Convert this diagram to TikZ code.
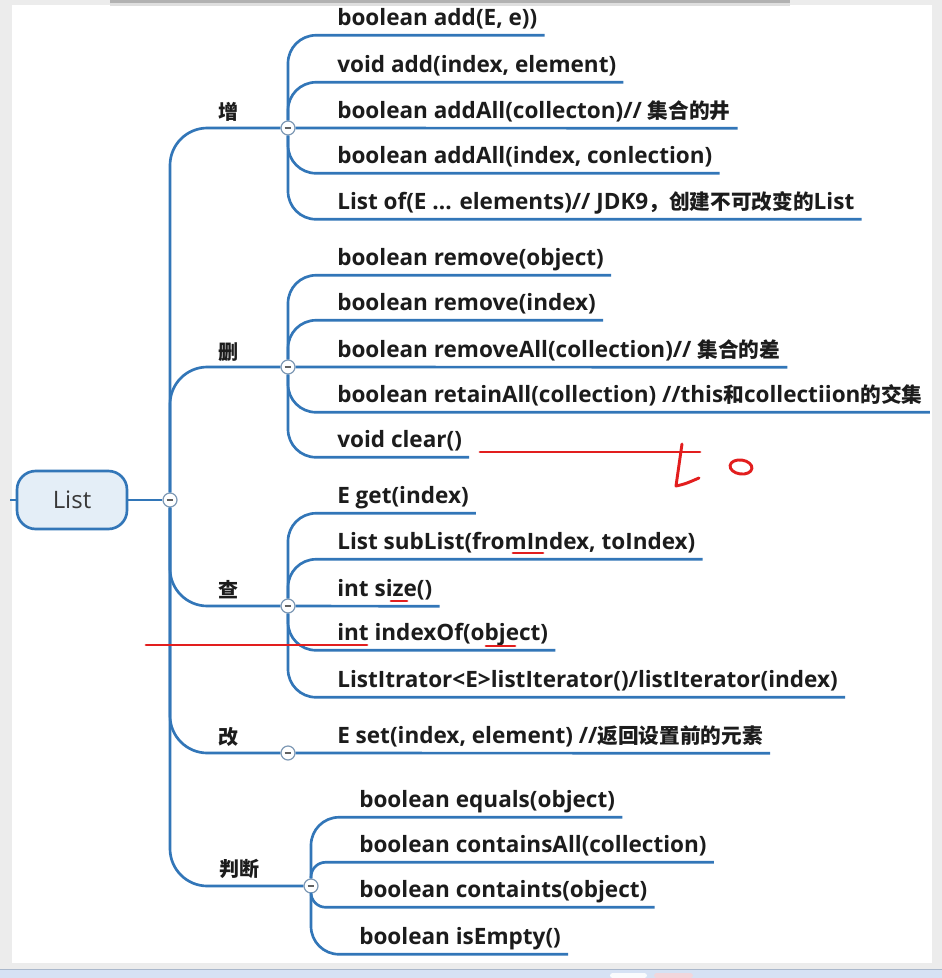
\documentclass[tikz,border=0pt]{standalone}
\usepackage{fontspec}
\setmainfont{Open Sans}
\newfontfamily\cjk{Noto Sans CJK SC}
\definecolor{xblue}{RGB}{50,118,184}
\definecolor{rootfill}{RGB}{228,238,247}
\definecolor{knobline}{RGB}{125,152,180}
\definecolor{inkred}{RGB}{226,30,30}
\definecolor{leaftext}{RGB}{28,28,28}
\definecolor{edgegray}{RGB}{236,236,236}
\definecolor{barblue}{RGB}{214,226,244}
\definecolor{barline}{RGB}{170,184,204}
\definecolor{pinkish}{RGB}{242,214,220}
\newcommand\zh[1]{{\cjk\bfseries\fontsize{15.5}{18}\selectfont #1}}
\tikzset{
	rootbox/.style={draw=xblue,line width=2pt,fill=rootfill,rounded corners=14pt,minimum width=82.5pt,minimum height=43.5pt,inner sep=0pt,font=\fontsize{18}{20}\selectfont,text=black!78},
	knob/.style={circle,draw=knobline,line width=0.9pt,fill=white,minimum size=10.5pt,inner sep=0pt,
		path picture={\draw[line width=1.3pt,black!62] ([xshift=-2.6pt]path picture bounding box.center) -- ([xshift=2.6pt]path picture bounding box.center);}},
	cat/.style={inner sep=0pt,font=\cjk\bfseries\fontsize{15}{18}\selectfont,text=leaftext},
	leaf/.style={anchor=base west,inner xsep=5.25pt,inner ysep=0pt,text height=10.5pt,text depth=7.5pt,font=\bfseries\fontsize{16.9}{18}\selectfont,text=leaftext},
	branch/.style={draw=xblue,line width=2pt,rounded corners=21pt},
	twig/.style={branch,rounded corners=11pt},
	trunk/.style={branch,rounded corners=28pt},
	pen/.style={draw=inkred,line width=2.2pt,line cap=round,line join=round}
}
\begin{document}
\begin{tikzpicture}[x=0.75pt,y=-0.75pt]
	\useasboundingbox (0,0) rectangle (942,978);
	\fill[edgegray] (0,0) rectangle (942,978);
	\fill[white] (12,5) rectangle (932,963);
	\fill[gray!60] (110,0) rectangle (790,3);
	\fill[gray!25] (110,3) rectangle (790,6);
	\fill[barblue] (0,970) rectangle (942,978);
	\draw[barline,line width=0.8pt] (0,969.5) -- (942,969.5);
	\fill[white!85!barblue,rounded corners=2pt] (610,973) rectangle (647,978);
	\fill[pinkish,rounded corners=2pt] (654,973) rectangle (693,978);
	
	\node[rootbox] (root) at (72,500) {List};
	\coordinate (lft) at (10,500);
	
	\node[knob] (k0) at (170,500) {};
	\node[knob] (kadd) at (288,128) {};
	\node[knob] (kdel) at (288,367) {};
	\node[knob] (kget) at (288,606) {};
	\node[knob] (kset) at (288,753) {};
	\node[knob] (kjudge) at (311,886) {};
	
	\node[cat] (tadd) at (228,112) {增};
	\node[cat] (tdel) at (228,352) {删};
	\node[cat] (tget) at (228,590) {查};
	\node[cat] (tset) at (228,737) {改};
	\node[cat] (tjudge) at (239,869) {判断};
	
	\node[leaf] (a1) at (330,25) {boolean add(E, e))};
	\node[leaf] (a2) at (330,72) {void add(index, element)};
	\node[leaf] (a3) at (330,118) {boolean addAll(collecton)// \zh{集合的井}};
	\node[leaf] (a4) at (330,163) {boolean addAll(index, conlection)};
	\node[leaf] (a5) at (330,209) {List of(E ... elements)// JDK9\zh{，创建不可改变的}List};
	
	\node[leaf] (d1) at (330,265) {boolean remove(object)};
	\node[leaf] (d2) at (330,310) {boolean remove(index)};
	\node[leaf] (d3) at (330,357) {boolean removeAll(collection)// \zh{集合的差}};
	\node[leaf] (d4) at (330,402) {boolean retainAll(collection) //this\zh{和}collectiion\zh{的交集}};
	\node[leaf] (d5) at (330,447) {void clear()};
	
	\node[leaf] (g1) at (330,503) {E get(index)};
	\node[leaf] (g2) at (330,549) {List subList(fromIndex, toIndex)};
	\node[leaf] (g3) at (330,596) {int size()};
	\node[leaf] (g4) at (330,640) {int indexOf(object)};
	\node[leaf] (g5) at (330,687) {ListItrator<E>listIterator()/listIterator(index)};
	
	\node[leaf] (s1) at (330,743) {E set(index, element) //\zh{返回设置前的元素}};
	
	\node[leaf] (j1) at (352,807) {boolean equals(object)};
	\node[leaf] (j2) at (352,852) {boolean containsAll(collection)};
	\node[leaf] (j3) at (352,897) {boolean containts(object)};
	\node[leaf] (j4) at (352,944) {boolean isEmpty()};
	
	\draw[branch] (lft) -- (root);
	\draw[branch] (root) -- (k0);
	\draw[trunk] (k0) |- (kadd);
	\draw[trunk] (k0) |- (kdel);
	\draw[trunk] (k0) |- (kget);
	\draw[trunk] (k0) |- (kset);
	\draw[trunk] (k0) |- (kjudge);
	
	\draw[branch] (kadd) |- (a1.south east);
	\draw[branch] (kadd) |- (a2.south east);
	\draw[branch] (kadd) -- (a3.south east);
	\draw[branch] (kadd) |- (a4.south east);
	\draw[branch] (kadd) |- (a5.south east);
	
	\draw[branch] (kdel) |- (d1.south east);
	\draw[branch] (kdel) |- (d2.south east);
	\draw[branch] (kdel) -- (d3.south east);
	\draw[branch] (kdel) |- (d4.south east);
	\draw[branch] (kdel) |- (d5.south east);
	
	\draw[branch] (kget) |- (g1.south east);
	\draw[branch] (kget) |- (g2.south east);
	\draw[branch] (kget) -- (g3.south east);
	\draw[branch] (kget) |- (g4.south east);
	\draw[branch] (kget) |- (g5.south east);
	
	\draw[branch] (kset) -- (s1.south east);
	
	\draw[branch] (kjudge) |- (j1.south east);
	\draw[twig] (kjudge) |- (j2.south east);
	\draw[twig] (kjudge) |- (j3.south east);
	\draw[branch] (kjudge) |- (j4.south east);
	
	\draw[pen] (480,452) -- (700,452);
	\draw[pen] (682,444) -- (676,486) .. controls (685,484) .. (699,478);
	\draw[pen,rotate around={-8:(741,467)}] (741,467) ellipse (11 and 7);
	\draw[pen] (146,645) -- (367,645);
	\draw[pen] (513,553) -- (543,553);
	\draw[pen] (391,601) -- (407,601);
	\draw[pen] (486,646) -- (515,646);
\end{tikzpicture}
\end{document}
